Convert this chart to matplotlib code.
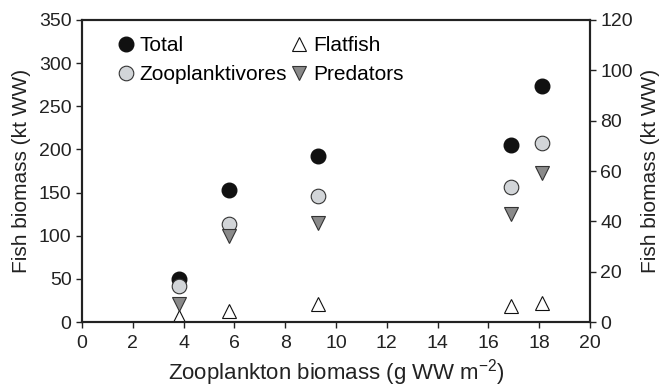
import matplotlib
matplotlib.use("Agg")
import matplotlib.pyplot as plt

plt.rcParams['font.family'] = ['Liberation Sans', 'DejaVu Sans']
plt.rcParams['mathtext.fontset'] = 'custom'
plt.rcParams['mathtext.rm'] = 'Liberation Sans'

# zooplankton biomass (g WW m-2)
zoo = [3.8, 5.8, 9.3, 16.9, 18.1]
# left axis (kt WW)
total = [50, 153, 192, 205, 273]
zooplanktivores = [42, 114, 146, 156, 207]
# right axis (kt WW)
predators = [7, 34.3, 39.4, 43, 59.3]
flatfish = [2, 4.5, 7, 6.2, 7.5]

fig = plt.figure(figsize=(6.63, 3.89), dpi=100)
ax = fig.add_axes([0.1237, 0.1722, 0.7662, 0.7764])
ax2 = ax.twinx()

ms = 10.5
h1, = ax.plot(zoo, total, 'o', color='#111111', mec='#111111', ms=ms, label='Total')
h2, = ax.plot(zoo, zooplanktivores, 'o', color='#d2d5d8', mec='#333333', mew=0.8, ms=ms,
              label='Zooplanktivores')
h3, = ax2.plot(zoo, flatfish, '^', color='white', mec='#111111', mew=0.8, ms=ms, label='Flatfish')
h4, = ax2.plot(zoo, predators, 'v', color='#8a8a8a', mec='#333333', mew=0.8, ms=ms, label='Predators')

ax.set_xlim(0, 20)
ax.set_ylim(0, 350)
ax2.set_ylim(0, 120)
ax.set_xticks(range(0, 21, 2))
ax.set_yticks(range(0, 351, 50))
ax2.set_yticks(range(0, 121, 20))

for a in (ax, ax2):
    a.tick_params(labelsize=14, direction='out', length=4, width=1, colors='#222222')
    for s in a.spines.values():
        s.set_linewidth(1.5)
        s.set_color('#222222')
ax.tick_params(axis='x', pad=5)

ax.set_xlabel('Zooplankton biomass (g WW m$^{-2}$)', fontsize=16, color='#222222', labelpad=4)
ax.set_ylabel('Fish biomass (kt WW)', fontsize=15, color='#222222', labelpad=6)
ax2.set_ylabel('Fish biomass (kt WW)', fontsize=15, color='#222222', labelpad=6)

ax.legend([h1, h2, h3, h4], ['Total', 'Zooplanktivores', 'Flatfish', 'Predators'],
          ncol=2, loc='upper left', bbox_to_anchor=(0.045, 0.975), frameon=False,
          fontsize=15, handletextpad=0.05, columnspacing=0.0, handlelength=1.2,
          borderaxespad=0.0, labelspacing=0.5)

fig.savefig('out.png', dpi=100)
